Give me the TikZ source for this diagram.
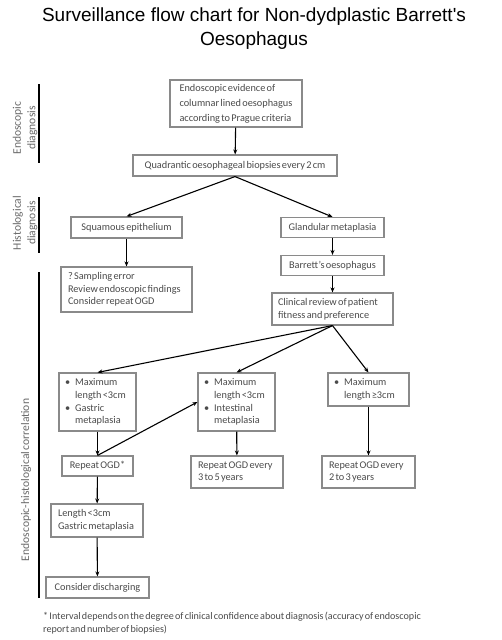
\documentclass[tikz,border=0pt]{standalone}
\usepackage{fontspec}
\setmainfont{Carlito}[WordSpace={0.55,0.3,0.3}]
\newfontfamily\titlefont{Liberation Sans}
\usetikzlibrary{arrows.meta}
\definecolor{boxgray}{HTML}{8A8A8A}
\definecolor{txtgray}{HTML}{4A4A4A}
\definecolor{sidegray}{HTML}{6A6A6A}
\newcommand{\bul}{\hspace*{3pt}\textbullet\hspace{5pt}}
\newcommand{\nob}{\hspace*{3pt}\phantom{\textbullet}\hspace{5pt}}
\frenchspacing
\begin{document}
\begin{tikzpicture}[x=1pt,y=-1pt,
  box/.style={draw=boxgray,line width=1.1pt,text=txtgray,font=\fontsize{10.3}{12.6}\selectfont,inner sep=0pt,minimum width=#1},
  box/.default=100pt,
  arr/.style={-{Stealth[length=5pt,width=4pt]},line width=1.1pt},
  bar/.style={line width=1.8pt},
  side/.style={text=sidegray,font=\fontsize{11.6}{14.5}\selectfont,rotate=90,align=center}]
\useasboundingbox (0,0) rectangle (501,640);
% title
\node[font=\titlefont\fontsize{19}{24}\selectfont,align=center] (title) at (254,29) {Surveillance flow chart for Non-dydplastic Barrett's\\Oesophagus};
% side bars
\coordinate (b1t) at (39,84); \coordinate (b1b) at (39,163);
\coordinate (b2t) at (39,197); \coordinate (b2b) at (39,253);
\coordinate (b3t) at (39,272); \coordinate (b3b) at (39,598);
\draw[bar] (b1t) -- (b1b);
\draw[bar] (b2t) -- (b2b);
\draw[bar] (b3t) -- (b3b);
\node[side] (s1) at (25,128) {Endoscopic\\diagnosis};
\node[side] (s2) at (25,223) {Histological\\diagnosis};
\node[side] (s3) at (26,480) {Endoscopic-histological correlation};
% boxes
\node[box=132pt,minimum height=47pt,align=flush left,font=\fontsize{10.3}{15}\selectfont] (evid) at (236,103.5) {Endoscopic evidence of\\columnar lined oesophagus\\according to Prague criteria};
\node[box=204pt,minimum height=21pt] (quad) at (235,165.5) {Quadrantic oesophageal biopsies every 2 cm};
\node[box=111pt,minimum height=21pt] (squam) at (126.5,227.5) {Squamous epithelium};
\node[box=103pt,minimum height=20pt] (gland) at (332.5,227.5) {Glandular metaplasia};
\node[box=103pt,minimum height=20pt] (barr) at (332.5,265.5) {Barrett's oesophagus};
\node[box=121pt,minimum height=32pt,text width=109pt,align=flush left] (clin) at (332.5,309) {Clinical review of patient\\fitness and preference};
\node[box=131pt,minimum height=45pt,text width=117pt,align=flush left] (samp) at (126.5,289.5) {? Sampling error\\Review endoscopic findings\\Consider repeat OGD};
\node[box=77pt,minimum height=58pt,text width=71pt,align=flush left] (max1) at (97.5,402) {\bul Maximum\\\nob length <3cm\\\bul Gastric\\\nob metaplasia};
\node[box=77pt,minimum height=58pt,text width=71pt,align=flush left] (max2) at (236.5,402) {\bul Maximum\\\nob length <3cm\\\bul Intestinal\\\nob metaplasia};
\node[box=81pt,minimum height=33pt,text width=75pt,align=flush left] (max3) at (368.5,389.5) {\bul Maximum\\\nob length ≥3cm};
\node[box=71pt,minimum height=20pt] (rep) at (97.5,466) {Repeat OGD*};
\node[box=92pt,minimum height=32pt,text width=78pt,align=flush left] (rep35) at (237,472) {Repeat OGD every\\3 to 5 years};
\node[box=93pt,minimum height=32pt,text width=79pt,align=flush left] (rep23) at (368.5,472) {Repeat OGD every\\2 to 3 years};
\node[box=92pt,minimum height=33pt,text width=78pt,align=flush left] (len) at (97,520.5) {Length <3cm\\Gastric metaplasia};
\node[box=103pt,minimum height=21pt] (disch) at (97.5,587.5) {Consider discharging};
% footnote
\node[text=txtgray,font=\fontsize{10.1}{13}\selectfont,text width=440pt,align=flush left,anchor=north west,inner sep=0pt] (foot) at (43,612) {* Interval depends on the degree of clinical confidence about diagnosis (accuracy of endoscopic\\report and number of biopsies)};
% connectors
\draw[arr] (evid) -- (quad);
\draw[arr] (quad.south) -- (squam.north);
\draw[arr] (quad.south) -- (gland.north);
\draw[arr] (squam) -- (samp);
\draw[arr] (gland) -- (barr);
\draw[arr] (barr) -- (clin);
\draw[arr] (clin.south) -- (max1.north);
\draw[arr] (clin.south) -- (max2.north);
\draw[arr] (clin.south) -- (max3.north);
\draw[arr] (max1) -- (rep);
\draw[arr] (rep.north) -- (max2.west);
\draw[arr] (max2) -- (rep35);
\draw[arr] (max3) -- (rep23);
\draw[arr] (rep) -- (len);
\draw[arr] (len) -- (disch);
\end{tikzpicture}
\end{document}
